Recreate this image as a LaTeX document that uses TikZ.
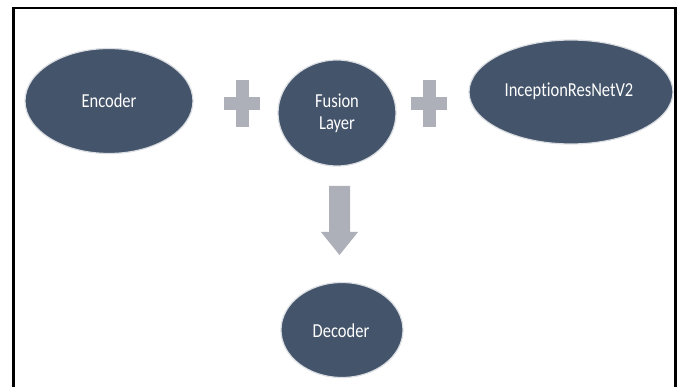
\documentclass[tikz,border=0pt]{standalone}
\usepackage{fontspec}
\setmainfont[Ligatures=NoCommon]{Carlito}
\usetikzlibrary{shapes.geometric,calc}

\definecolor{slate}{HTML}{44546A}
\definecolor{halo}{HTML}{DADDE2}
\definecolor{plusgray}{HTML}{ADB0B8}

\tikzset{
  blob/.style={ellipse, fill=slate, draw=halo, line width=1.2pt, inner sep=0pt},
  label/.style={text=white, font=\fontsize{16.5}{19}\selectfont, align=center, inner sep=0pt},
  frame/.style={draw=black, line width=2.4pt}
}

% draws a plus sign of the given centre
\newcommand{\plussign}[1]{%
  \fill[plusgray] ($#1+(-18,-6.5)$) rectangle ($#1+(18,6.5)$);
  \fill[plusgray] ($#1+(-6.5,-23.5)$) rectangle ($#1+(6.5,23.5)$);
}

\newcommand{\tallertext}[1]{\scalebox{1}[1.2]{#1}}

\begin{document}
\begin{tikzpicture}[x=1pt, y=-1pt]
  \useasboundingbox (0,0) rectangle (681,387);

  % outer frame, open at the bottom
  \draw[frame] (13.5,400) -- (13.5,8) -- (675.5,8) -- (675.5,400);

  % the four blocks
  \node[blob, minimum width=168pt, minimum height=105pt] (enc) at (109,101) {};
  \node[blob, minimum width=118pt, minimum height=106pt] (fus) at (337,113) {};
  \node[blob, minimum width=204pt, minimum height=104pt] (inc) at (571,92) {};
  \node[blob, minimum width=122pt, minimum height=95pt]  (dec) at (342,330) {};

  \node[label] (enct) at (109,101) {\tallertext{Encoder}};
  \node[label] (fust) at (337,114) {\tallertext{\begin{tabular}{@{}c@{}}Fusion\\Layer\end{tabular}}};
  \node[label] (inct) at (569,91)  {\tallertext{InceptionResNetV2}};
  \node[label] (dect) at (341,331) {\tallertext{Decoder}};

  % plus signs between the inputs and the fusion layer
  \coordinate (p1) at (242,103.5);
  \coordinate (p2) at (429,103.5);
  \plussign{(p1)}
  \plussign{(p2)}

  % block arrow down to the decoder
  \coordinate (atop) at (339.5,186);
  \fill[plusgray]
    ($(atop)+(-10.5,0)$) -- ($(atop)+(10.5,0)$) -- ($(atop)+(10.5,46)$)
    -- ($(atop)+(18.5,46)$) -- ($(atop)+(0,69)$) -- ($(atop)+(-18.5,46)$)
    -- ($(atop)+(-10.5,46)$) -- cycle;
\end{tikzpicture}
\end{document}
